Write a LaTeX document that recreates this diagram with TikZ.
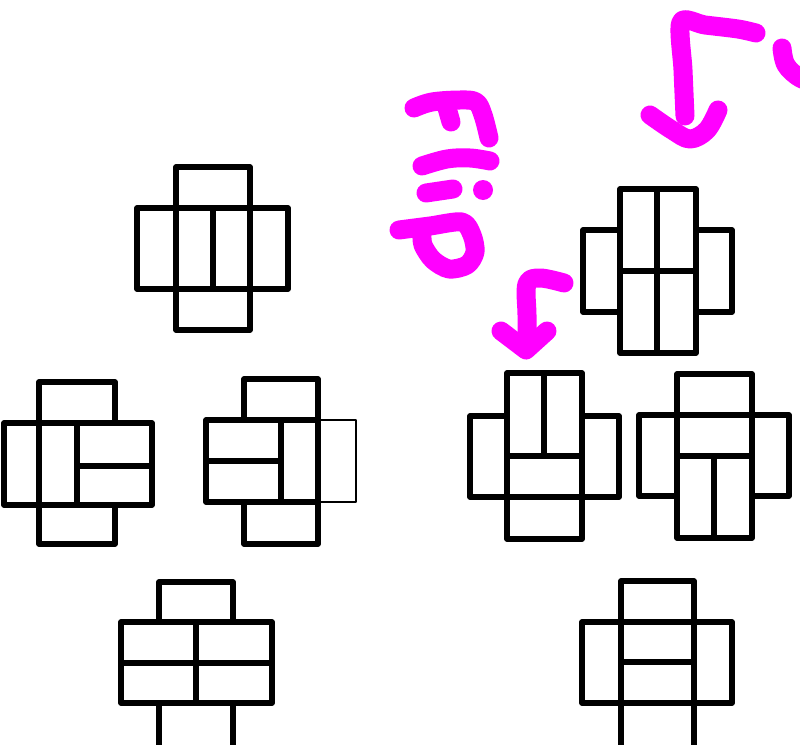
\documentclass[tikz,border=0pt]{standalone}
\usetikzlibrary{calc}
\definecolor{inkmag}{RGB}{255,0,255}
\tikzset{
  blk/.style={draw=black,line width=5.5pt,line join=round},
  thinblk/.style={draw=black,line width=2pt,line join=round},
  ink/.style={draw=inkmag,line width=19pt,line cap=round,line join=round},
}
\begin{document}
\begin{tikzpicture}[x=1pt,y=-1pt]
\useasboundingbox (0,0) rectangle (800,744);
\clip (0,0) rectangle (800,744);
\fill[white] (0,0) rectangle (800,744);

% ---- shape 1 (top left)
\draw[blk] (176,167) rectangle (250,208);
\draw[blk] (137,208) rectangle (176,289);
\draw[blk] (176,208) rectangle (213,289);
\draw[blk] (213,208) rectangle (250,289);
\draw[blk] (250,208) rectangle (288,289);
\draw[blk] (176,289) rectangle (250,330);

% ---- shape 2 (middle left)
\draw[blk] (39,382) rectangle (115,423);
\draw[blk] (4,423) rectangle (39,505);
\draw[blk] (39,423) rectangle (77,505);
\draw[blk] (77,423) rectangle (152,466);
\draw[blk] (77,466) rectangle (152,505);
\draw[blk] (39,505) rectangle (115,544);

% ---- shape 3 (middle)
\draw[thinblk] (318,420) rectangle (356,502);
\draw[blk] (244,379) rectangle (318,420);
\draw[blk] (206,420) rectangle (281,461);
\draw[blk] (206,461) rectangle (281,502);
\draw[blk] (281,420) rectangle (318,502);
\draw[blk] (244,502) rectangle (318,544);

% ---- shape 4 (bottom left)
\draw[blk] (159,582) rectangle (233,622);
\draw[blk] (121,622) rectangle (196,663);
\draw[blk] (196,622) rectangle (272,663);
\draw[blk] (121,663) rectangle (196,703);
\draw[blk] (196,663) rectangle (272,703);
\draw[blk] (159,703) rectangle (233,760);

% ---- shape 5 (top right)
\draw[blk] (583,230) rectangle (620,312);
\draw[blk] (620,189) rectangle (657,271);
\draw[blk] (657,189) rectangle (696,271);
\draw[blk] (620,271) rectangle (657,353);
\draw[blk] (657,271) rectangle (696,353);
\draw[blk] (696,230) rectangle (732,312);

% ---- shape 6
\draw[blk] (507,373) rectangle (544,456);
\draw[blk] (544,373) rectangle (582,456);
\draw[blk] (470,416) rectangle (507,497);
\draw[blk] (582,416) rectangle (619,497);
\draw[blk] (507,456) rectangle (582,497);
\draw[blk] (507,497) rectangle (582,539);

% ---- shape 7
\draw[blk] (677,374) rectangle (752,415);
\draw[blk] (639,415) rectangle (677,496);
\draw[blk] (752,415) rectangle (789,496);
\draw[blk] (677,415) rectangle (752,456);
\draw[blk] (677,456) rectangle (714,538);
\draw[blk] (714,456) rectangle (752,538);

% ---- shape 8 (bottom right)
\draw[blk] (621,581) rectangle (694,622);
\draw[blk] (582,622) rectangle (621,703);
\draw[blk] (694,622) rectangle (732,703);
\draw[blk] (621,622) rectangle (694,662);
\draw[blk] (621,662) rectangle (694,703);
\draw[blk] (621,703) rectangle (694,760);

% ---- handwritten "Flip" (rotated)
% F
\draw[ink] plot[smooth,tension=0.6] coordinates {(414,108) (432,102) (460,100) (476,102) (483,115) (489,138)};
\draw[ink] (447,108) -- (451,122);
% l
\draw[ink] plot[smooth,tension=0.6] coordinates {(422,166) (447,159) (470,158) (490,161)};
% i
\draw[ink] (426,193) -- (453,189);
\fill[inkmag] (483,190) circle (10);
% p
\draw[ink] plot[smooth,tension=0.5] coordinates {(399,230) (430,226) (462,222) (472,235) (475,252) (467,265) (449,269) (433,260) (423,245) (422,232)};

% ---- small arrow
\draw[ink] plot[smooth,tension=0.6] coordinates {(564,283) (540,278) (527,284) (527,315) (527,343)};
\draw[ink] (501,331) -- (526,350) -- (547,331);

% ---- big arrow
\draw[ink] plot[smooth,tension=0.5] coordinates {(756,33) (738,29) (705,25) (681,22) (683,70) (685,116)};
\draw[ink] plot[smooth,tension=0.6] coordinates {(650,115) (672,130) (690,139) (707,130) (718,110)};
% partial stroke at right edge
\draw[ink] plot[smooth,tension=0.6] coordinates {(782,48) (786,65) (800,78) (815,82)};
\end{tikzpicture}
\end{document}
